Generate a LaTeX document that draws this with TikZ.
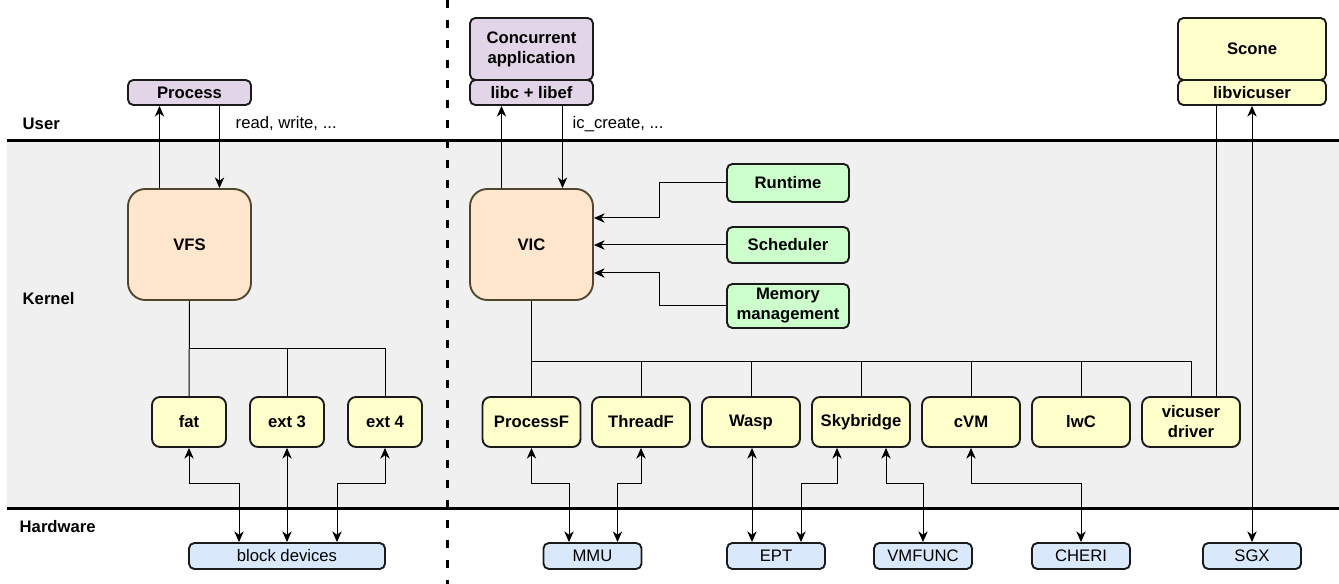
\documentclass[tikz,border=0pt]{standalone}
\usepackage{fontspec}
\setmainfont{Liberation Sans}
\usetikzlibrary{arrows.meta,calc}
\definecolor{vpurple}{HTML}{E1D5E7}
\definecolor{vorange}{HTML}{FFE6CC}
\definecolor{vbrown}{HTML}{50462D}
\definecolor{vyellow}{HTML}{FFFFCC}
\definecolor{vgreen}{HTML}{CCFFCC}
\definecolor{vblue}{HTML}{DAE8FC}
\definecolor{vgray}{HTML}{F0F0F0}
\definecolor{vdark}{HTML}{1A1A1A}

\begin{document}
\begin{tikzpicture}[x=0.75pt, y=-0.75pt,
  txt/.style={font=\fontsize{12.5}{15}\selectfont},
  lbl/.style={txt, font=\fontsize{12.5}{15}\selectfont\bfseries, anchor=west},
  box/.style={draw=vdark, line width=1.4pt, rounded corners=4pt, align=center, inner sep=1pt, font=\fontsize{12.5}{15}\selectfont\bfseries},
  appbox/.style={box, fill=vpurple, minimum width=92.25pt},
  corebox/.style={box, fill=vorange, draw=vbrown, rounded corners=13pt, minimum width=92.25pt, minimum height=83.25pt},
  modbox/.style={box, fill=vgreen, minimum width=91.5pt, minimum height=27pt},
  fsbox/.style={box, fill=vyellow, minimum width=55.5pt, minimum height=37.5pt, rounded corners=6pt},
  kbox/.style={box, fill=vyellow, minimum width=73.5pt, minimum height=37.5pt, rounded corners=6pt},
  hwbox/.style={box, fill=vblue, font=\fontsize{12.5}{15}\selectfont, minimum width=73.5pt, minimum height=19.5pt},
  arr/.style={-{Stealth[length=8pt, width=7pt, inset=2.5pt]}, line width=0.75pt},
  darr/.style={{Stealth[length=8pt, width=7pt, inset=2.5pt]}-{Stealth[length=8pt, width=7pt, inset=2.5pt]}, line width=0.75pt},
  wire/.style={line width=0.75pt},
]
  \useasboundingbox (0,0) rectangle (1339,584);

  % layers
  \fill[vgray] (7,141) rectangle (1339,508);
  \draw[line width=2.25pt] (7,141) -- (1339,141);
  \draw[line width=2.25pt] (7,508) -- (1339,508);
  \draw[line width=2.25pt, dash pattern=on 6pt off 9pt] (447,0) -- (447,584);

  \node[lbl] (user) at (18,124) {User};
  \node[lbl] (kernel) at (18,299) {Kernel};
  \node[lbl] (hardware) at (15,527) {Hardware};

  % user space
  \node[appbox, minimum height=18.75pt] (proc) at (189.5,92.5) {Process};
  \node[appbox, minimum height=46.5pt] (capp) at (531.5,49) {Concurrent\\application};
  \node[appbox, minimum height=18.75pt] (libc) at (531.5,92.5) {libc + libef};
  \node[box, fill=vyellow, minimum width=111pt, minimum height=46.5pt] (scone) at (1252,49) {Scone};
  \node[box, fill=vyellow, minimum width=111pt, minimum height=18.75pt] (libv) at (1252,92.5) {libvicuser};

  % kernel
  \node[corebox] (vfs) at (189.5,244.5) {VFS};
  \node[corebox] (vic) at (531.5,244.5) {VIC};

  \node[modbox, minimum height=28.5pt] (rt) at (788,183) {Runtime};
  \node[modbox] (sch) at (788,245) {Scheduler};
  \node[modbox, minimum height=33pt] (mem) at (788,306) {Memory\\management};

  \node[fsbox] (fat) at (189,422) {fat};
  \node[fsbox] (ext3) at (287,422) {ext 3};
  \node[fsbox] (ext4) at (385,422) {ext 4};

  \node[kbox] (pf) at (531.5,422) {ProcessF};
  \node[kbox] (tf) at (641,422) {ThreadF};
  \node[kbox] (wasp) at (751,422) {Wasp};
  \node[kbox] (sky) at (861,422) {Skybridge};
  \node[kbox] (cvm) at (971,422) {cVM};
  \node[kbox] (lwc) at (1081,422) {lwC};
  \node[kbox] (vud) at (1191,422) {vicuser\\driver};

  % hardware
  \node[hwbox, minimum width=147pt] (blk) at (287,556) {block devices};
  \node[hwbox] (mmu) at (592.5,556) {MMU};
  \node[hwbox] (ept) at (776,556) {EPT};
  \node[hwbox] (vmf) at (923,556) {VMFUNC};
  \node[hwbox] (cheri) at (1081,556) {CHERI};
  \node[hwbox] (sgx) at (1252,556) {SGX};

  % syscalls
  \draw[arr] ($(vfs.north)+(-30,0)$) -- ($(proc.south)+(-30,0)$);
  \draw[arr] ($(proc.south)+(30,0)$) -- ($(vfs.north)+(30,0)$);
  \node[txt, anchor=west] (rw) at (231,124) {read, write, ...};
  \draw[arr] ($(vic.north)+(-30,0)$) -- ($(libc.south)+(-30,0)$);
  \draw[arr] ($(libc.south)+(31,0)$) -- ($(vic.north)+(31,0)$);
  \node[txt, anchor=west] (icc) at (568,124) {ic\_create, ...};

  % vfs tree
  \coordinate (fsbus) at (189.5,349);
  \draw[wire] (vfs.south) -- (fat.north);
  \draw[wire] (fsbus) -| (ext3.north);
  \draw[wire] (fsbus) -| (ext4.north);

  % vic tree
  \coordinate (vicbus) at (531.5,362);
  \draw[wire] (vic.south) -- (pf.north);
  \foreach \n in {tf,wasp,sky,cvm,lwc,vud}
    \draw[wire] (vicbus) -| (\n.north);

  % modules into vic
  \draw[arr] (rt.west) -- ++(-67,0) |- ($(vic.east)+(0,-26.5)$);
  \draw[arr] (sch.west) -- (sch.west -| vic.east);
  \draw[arr] (mem.west) -- ++(-67,0) |- ($(vic.east)+(0,28.5)$);

  % to hardware
  \draw[darr] (fat.south) -- ++(0,36) -| ($(blk.north)+(-48,0)$);
  \draw[darr] (ext3.south) -- (blk.north);
  \draw[darr] (ext4.south) -- ++(0,36) -| ($(blk.north)+(50,0)$);
  \draw[darr] (pf.south) -- ++(0,36) -| ($(mmu.north)+(-23.5,0)$);
  \draw[darr] (tf.south) -- ++(0,36) -| ($(mmu.north)+(25,0)$);
  \draw[darr] ($(wasp.south)+(1,0)$) -- ($(ept.north)+(-24,0)$);
  \draw[darr] ($(sky.south)+(-24,0)$) -- ++(0,36) -| ($(ept.north)+(25,0)$);
  \draw[darr] ($(sky.south)+(25,0)$) -- ++(0,36) -| (vmf.north);
  \draw[darr] (cvm.south) -- ++(0,36) -| (cheri.north);
  \draw[wire] ($(libv.south)+(-36,0)$) -- ($(vud.north)+(25,0)$);
  \draw[darr] (sgx.north) -- (libv.south);
\end{tikzpicture}
\end{document}
